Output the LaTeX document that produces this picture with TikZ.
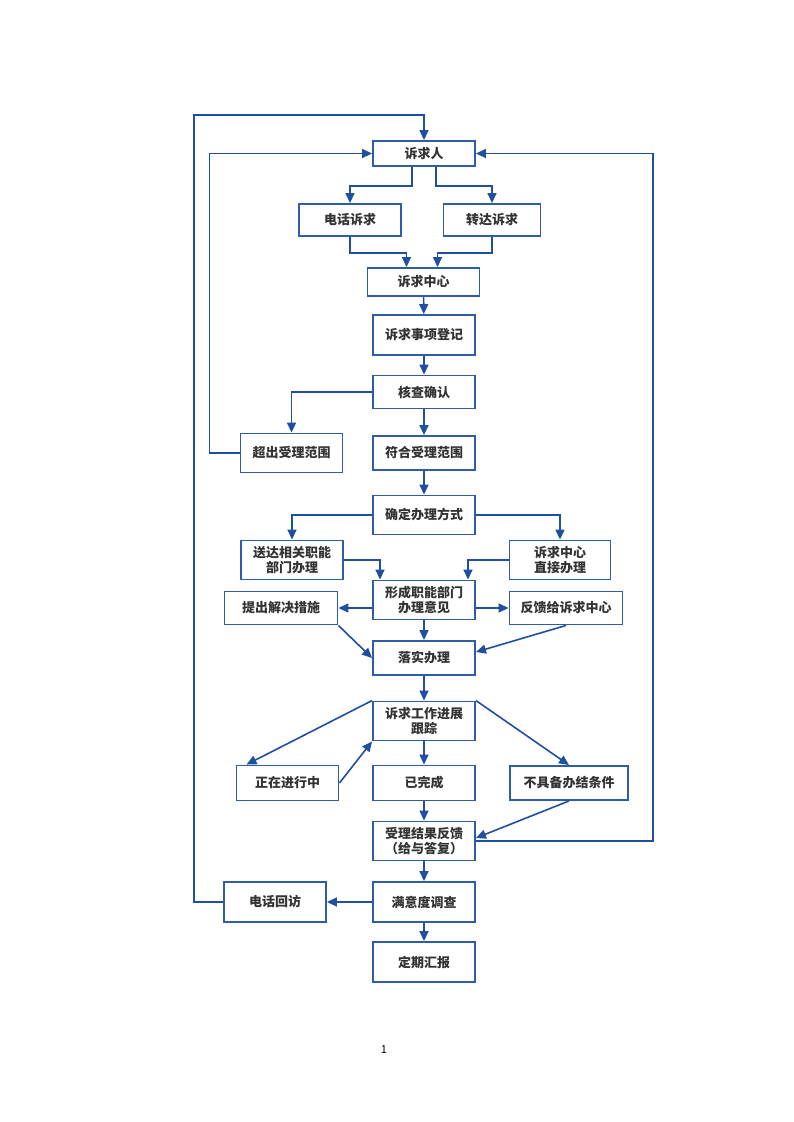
\documentclass[tikz,border=0pt]{standalone}
\usepackage{fontspec}
\setmainfont{Noto Sans CJK SC}
\usetikzlibrary{arrows.meta}
\definecolor{lineblue}{HTML}{1F4FA0}
\definecolor{boxblue}{HTML}{2E5CA6}
\definecolor{txtgray}{HTML}{333333}

\begin{document}
\begin{tikzpicture}[x=1pt,y=-1pt,
  box/.style={draw=boxblue, line width=1.9pt, fill=white, text=txtgray,
    font=\fontsize{13}{15}\selectfont\bfseries, align=center,
    minimum width=102pt, minimum height=36pt, inner sep=2pt},
  arr/.style={draw=lineblue, line width=1.6pt, -{Triangle[length=10pt,width=9pt]}},
  ln/.style={draw=lineblue, line width=1.6pt}]
\useasboundingbox (0,0) rectangle (793,1122);
%boxes
\node[box, minimum height=25pt] (ren) at (424,153.5) {诉求人};
\node[box, minimum height=32pt] (dianhua) at (350,220) {电话诉求};
\node[box, minimum width=97pt, minimum height=32pt] (zhuanda) at (492,220) {转达诉求};
\node[box, minimum width=112pt, minimum height=28pt] (zhongxin) at (423.5,282) {诉求中心};
\node[box, minimum height=40pt] (dengji) at (424,335) {诉求事项登记};
\node[box, minimum height=33pt] (hecha) at (424,392) {核查确认};
\node[box, minimum height=39pt] (chaochu) at (291.5,453) {超出受理范围};
\node[box, minimum height=34pt] (fuhe) at (424,453) {符合受理范围};
\node[box, minimum height=39pt] (queding) at (424,515) {确定办理方式};
\node[box, minimum height=39pt] (songda) at (292,560) {送达相关职能\\部门办理};
\node[box, minimum width=101pt, minimum height=39pt] (zhijie) at (560,560) {诉求中心\\直接办理};
\node[box, minimum height=39pt] (xingcheng) at (424,600) {形成职能部门\\办理意见};
\node[box, minimum width=113pt, minimum height=33pt] (tichu) at (281,608) {提出解决措施};
\node[box, minimum width=113pt, minimum height=33pt] (fankui) at (566,608) {反馈给诉求中心};
\node[box, minimum height=34pt] (luoshi) at (424,658) {落实办理};
\node[box, minimum height=39pt] (genzong) at (424,721) {诉求工作进展\\跟踪};
\node[box, minimum height=35pt] (zhengzai) at (287.5,783) {正在进行中};
\node[box, minimum height=35pt] (yiwan) at (424,783) {已完成};
\node[box, minimum width=118pt, minimum height=34pt] (buju) at (569,783) {不具备办结条件};
\node[box, minimum height=39pt] (shouli) at (424,841) {受理结果反馈\\（给与答复）};
\node[box, minimum height=40pt] (huifang) at (275,902) {电话回访};
\node[box, minimum height=40pt] (manyi) at (424,902) {满意度调查};
\node[box, minimum height=40pt] (dingqi) at (424,962) {定期汇报};
\node[font=\fontsize{11}{13}\selectfont] (pagenum) at (384,1050) {1};
%loops
\coordinate (loopL) at (194,115);
\draw[arr] (huifang.west) -| (loopL) -| (ren.north);
\draw[arr] (chaochu.west) -- ++(-30,0) |- (ren.west);
\draw[arr] (shouli.east) -- ++(177,0) |- (ren.east);
%top part
\draw[arr] ([xshift=-12pt]ren.south) -- ++(0,19) -| (dianhua.north);
\draw[arr] ([xshift=12pt]ren.south) -- ++(0,19) -| (zhuanda.north);
\draw[arr] (dianhua.south) -- ++(0,16) -| ([xshift=-17pt]zhongxin.north);
\draw[arr] (zhuanda.south) -- ++(0,16) -| ([xshift=14pt]zhongxin.north);
\draw[arr] (zhongxin) -- (dengji);
\draw[arr] (dengji) -- (hecha);
\draw[arr] (hecha.west) -| (chaochu.north);
\draw[arr] (hecha) -- (fuhe);
\draw[arr] (fuhe) -- (queding);
%handling
\draw[arr] (queding.west) -| (songda.north);
\draw[arr] (queding.east) -| (zhijie.north);
\draw[arr] (songda.east) -| ([xshift=-44pt]xingcheng.north);
\draw[arr] (zhijie.west) -| ([xshift=44pt]xingcheng.north);
\draw[arr] (xingcheng.west |- tichu.east) -- (tichu.east);
\draw[arr] (xingcheng.east |- fankui.west) -- (fankui.west);
\draw[arr] (xingcheng) -- (luoshi);
\draw[arr] (tichu.south east) -- (luoshi.west);
\draw[arr] (fankui.south) -- ([yshift=6pt]luoshi.east);
\draw[arr] (luoshi) -- (genzong);
%tracking
\draw[arr] (genzong.north west) -- ([xshift=-41pt]zhengzai.north);
\draw[arr] (zhengzai.east) -- (genzong.south west);
\draw[arr] (genzong.north east) -- (buju.north);
\draw[arr] (genzong) -- (yiwan);
\draw[arr] (yiwan) -- (shouli);
\draw[arr] (buju.south) -- ([yshift=3pt]shouli.east);
\draw[arr] (shouli) -- (manyi);
\draw[arr] (manyi) -- (huifang);
\draw[arr] (manyi) -- (dingqi);
\end{tikzpicture}
\end{document}
